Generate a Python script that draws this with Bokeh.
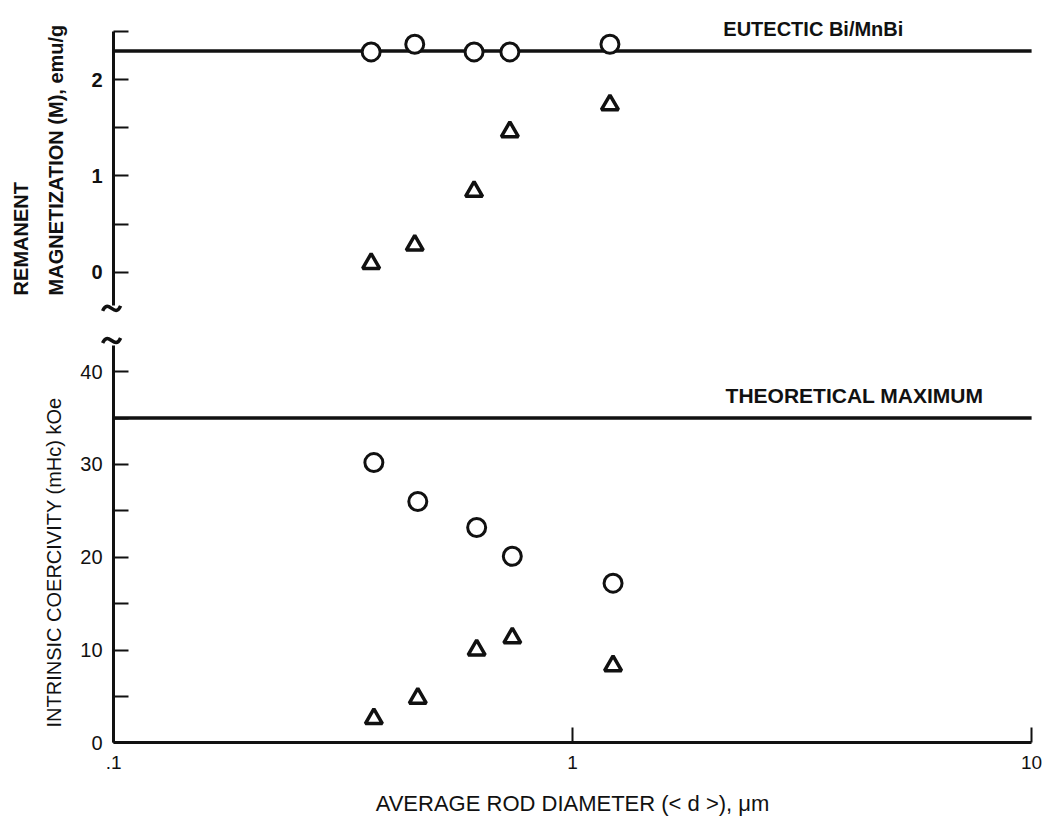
from math import pi

from bokeh.embed import file_html
from bokeh.layouts import column
from bokeh.models import (FixedTicker, Label, LinearAxis, LogAxis, LogScale,
                          Range1d)
from bokeh.plotting import figure
from bokeh.resources import INLINE

# --- data -------------------------------------------------------------
# average rod diameter <d> in micrometres
diam_m = [0.364, 0.453, 0.61, 0.73, 1.206]
diam_hc = [0.369, 0.46, 0.618, 0.739, 1.225]

# remanent magnetization (M), emu/g
m_circle = [2.29, 2.37, 2.29, 2.29, 2.37]
m_triangle = [0.09, 0.28, 0.84, 1.46, 1.74]

# intrinsic coercivity (mHc), kOe
hc_circle = [30.2, 26.0, 23.2, 20.1, 17.2]
hc_triangle = [2.6, 4.8, 10.0, 11.3, 8.3]

# reference levels
eutectic_m = 2.30
theoretical_hc = 35.0

x_ticks = [0.1, 1, 10]
x_tick_labels = [".1", "1", "10"]
m_ticks = [0, 1, 2]
m_minor = [0.5, 1.5, 2.5]
hc_ticks = [0, 10, 20, 30, 40]
hc_minor = [5, 15, 25, 35]

# --- styling ----------------------------------------------------------
FONT = "Liberation Sans"
INK = "#111111"
WIDTH = 1049
X_SPAN = (0.1, 10)           # drawn extent of the diameter axis
X_VIEW = (0.0567, 10.94)     # visible window incl. room for the labels
M_SPAN = (-0.35, 2.5)
HC_SPAN = (0, 42.8)
M_VIEW = (-0.555, 2.825)
HC_VIEW = (-8.05, 44.97)
TOP_H, BOTTOM_H = 325, 492


def make_figure(height, y_view):
    p = figure(
        x_axis_type=None, y_axis_type=None,
        x_range=Range1d(*X_VIEW), y_range=Range1d(*y_view),
        x_axis_location=None, y_axis_location=None,
        width=WIDTH, height=height,
        min_border=0,
        output_backend="svg",
        toolbar_location=None,
        background_fill_color="white",
        border_fill_color="white",
    )
    p.x_scale = LogScale()
    p.outline_line_color = None
    return p


def style_axis(ax, label_size, bold):
    ax.axis_line_width = 3
    ax.axis_line_color = INK
    ax.major_tick_in = 15
    ax.major_tick_out = 0
    ax.minor_tick_in = 15
    ax.minor_tick_out = 0
    ax.major_tick_line_width = 2
    ax.minor_tick_line_width = 2
    ax.major_tick_line_color = INK
    ax.minor_tick_line_color = INK
    ax.major_label_text_font = FONT
    ax.major_label_text_font_size = label_size
    ax.major_label_text_font_style = "bold" if bold else "normal"
    ax.major_label_text_color = INK


def y_axis(p, ticks, minor, span, bold):
    ax = LinearAxis(
        ticker=FixedTicker(ticks=ticks, minor_ticks=minor),
        fixed_location=X_SPAN[0], bounds=span,
    )
    style_axis(ax, "20px", bold)
    ax.major_label_standoff = 11
    p.add_layout(ax, "left")
    return ax


def add_text(p, x, y, text, size="21px", bold=True, angle=0.0):
    p.add_layout(Label(
        x=x, y=y, text=text, angle=angle,
        text_font=FONT, text_font_size=size,
        text_font_style="bold" if bold else "normal",
        text_color=INK, text_align="left", text_baseline="middle",
    ))


def add_break(p, y, height, y_view):
    """Small '~' break symbol on the value axis, sized in pixels."""
    from math import log10
    px_per_decade = WIDTH / (log10(X_VIEW[1]) - log10(X_VIEW[0]))
    units_per_px = (y_view[1] - y_view[0]) / height

    def X(dx):
        return 10 ** (log10(X_SPAN[0]) + (dx - 2) / px_per_decade)

    def Y(dy):
        return y - dy * units_per_px

    p.bezier(x0=[X(-9)], y0=[Y(2.5)], x1=[X(9)], y1=[Y(-2.5)],
             cx0=[X(-3)], cy0=[Y(-11)], cx1=[X(3)], cy1=[Y(11)],
             line_width=3.5, line_color=INK)


# --- upper panel: remanent magnetization ------------------------------
top = make_figure(TOP_H, M_VIEW)
y_axis(top, m_ticks, m_minor, M_SPAN, bold=True)

top.line(X_SPAN, [eutectic_m, eutectic_m], line_width=3.5, line_color=INK)
top.scatter(diam_m, m_triangle, marker="triangle", size=17,
            fill_color="white", line_color=INK, line_width=3.5)
top.scatter(diam_m, m_circle, marker="circle", size=18,
            fill_color="white", line_color=INK, line_width=3)

add_text(top, 2.13, 2.533, "EUTECTIC Bi/MnBi", size="20px")
add_text(top, 0.0627, -0.242, "REMANENT", size="20px", angle=pi / 2)
add_text(top, 0.0748, -0.242, "MAGNETIZATION (M), emu/g", size="20px",
         angle=pi / 2)
add_break(top, -0.377, TOP_H, M_VIEW)

# --- lower panel: intrinsic coercivity --------------------------------
bottom = make_figure(BOTTOM_H, HC_VIEW)
y_axis(bottom, hc_ticks, hc_minor, HC_SPAN, bold=False)

xa = LogAxis(
    ticker=FixedTicker(ticks=x_ticks),
    fixed_location=HC_SPAN[0], bounds=X_SPAN,
)
style_axis(xa, "19px", False)
xa.major_label_overrides = dict(zip(x_ticks, x_tick_labels))
xa.major_label_standoff = 13
xa.axis_label = "AVERAGE ROD DIAMETER (< d >), \u03bcm"
xa.axis_label_standoff = 19
xa.axis_label_text_font = FONT
xa.axis_label_text_font_size = "22px"
xa.axis_label_text_font_style = "normal"
xa.axis_label_text_color = INK
bottom.add_layout(xa, "below")

bottom.line(X_SPAN, [theoretical_hc, theoretical_hc], line_width=3.5,
            line_color=INK)
bottom.scatter(diam_hc, hc_triangle, marker="triangle", size=17,
               fill_color="white", line_color=INK, line_width=3.5)
bottom.scatter(diam_hc, hc_circle, marker="circle", size=18,
               fill_color="white", line_color=INK, line_width=3)

add_text(bottom, 2.154, 37.4, "THEORETICAL MAXIMUM")
add_text(bottom, 0.074, 1.65, "INTRINSIC COERCIVITY (mHc) kOe",
         size="20px", bold=False, angle=pi / 2)
add_break(bottom, 43.35, BOTTOM_H, HC_VIEW)

layout = column(top, bottom, spacing=0)

with open("out.html", "w") as f:
    f.write(file_html(layout, INLINE))
